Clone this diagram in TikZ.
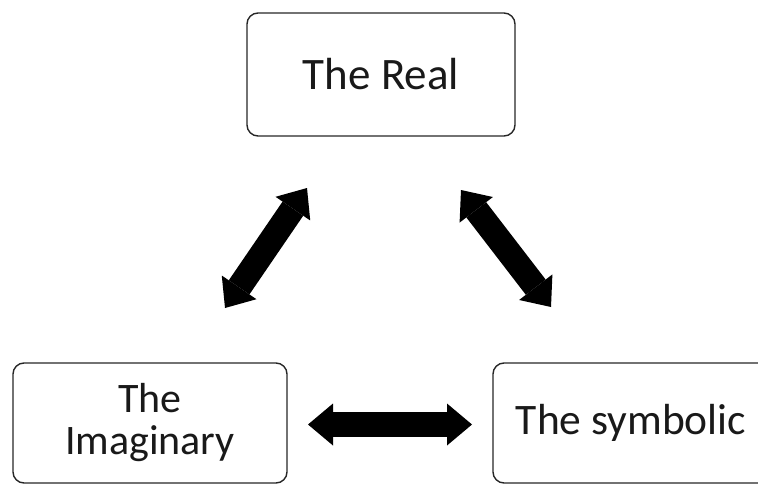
\documentclass[tikz,border=0pt]{standalone}
\usepackage{fontspec}
\setmainfont{Carlito}
\usetikzlibrary{arrows.meta}
\tikzset{
  box/.style={draw=black!85, line width=1.4pt, rounded corners=11pt, inner sep=0pt, align=center, text=black!90},
  bigarrow/.style={line width=25pt, black,
    {Triangle[width=42pt,length=25pt,line width=0pt]}-{Triangle[width=42pt,length=25pt,line width=0pt]}}
}
\begin{document}
\begin{tikzpicture}[x=1pt,y=-1pt]
\useasboundingbox (0,0) rectangle (758,485);
\clip (0,0) rectangle (758,485);
\node[box, minimum width=268pt, minimum height=123pt, font=\fontsize{45}{50}\selectfont] (real) at (381,74.5) {The Real};
\node[box, minimum width=274pt, minimum height=120pt, font=\fontsize{42}{42}\selectfont] (imag) at (150,423) {The\\Imaginary};
\node[box, minimum width=276pt, minimum height=120pt, font=\fontsize{43.5}{50}\selectfont] (symb) at (631,423) {The symbolic};
\coordinate (l1) at (225,308);
\coordinate (l2) at (307,188);
\coordinate (r1) at (461,190);
\coordinate (r2) at (551,307);
\coordinate (h1) at (308,424.5);
\coordinate (h2) at (472,424.5);
\draw[bigarrow] (l1) -- (l2);
\draw[bigarrow] (r1) -- (r2);
\draw[bigarrow] (h1) -- (h2);
\end{tikzpicture}
\end{document}
